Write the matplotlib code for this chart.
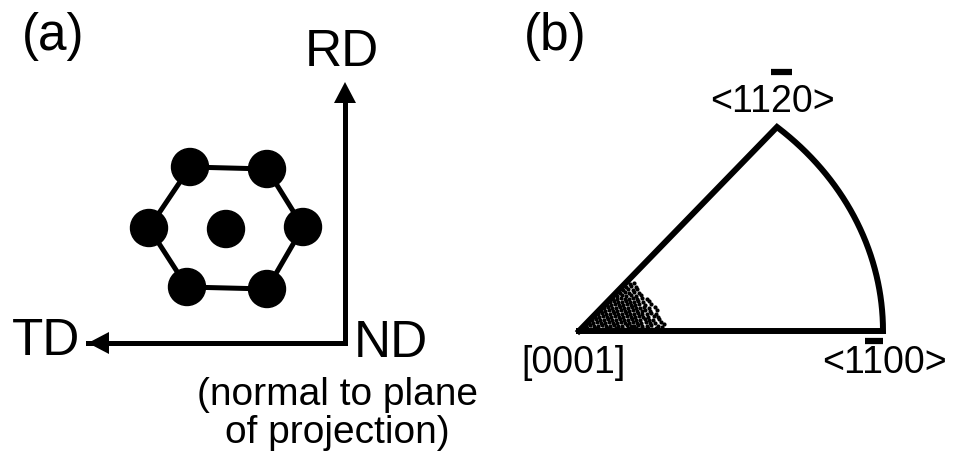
import numpy as np
import matplotlib
matplotlib.use("Agg")
import matplotlib.pyplot as plt
from matplotlib.patches import Circle, Polygon

plt.rcParams['font.family'] = ['Liberation Sans', 'DejaVu Sans']

# ---- panel (a): hexagonal lattice seen along ND ----
lattice_x = [190, 267, 303, 267, 187, 149]
lattice_y = [167, 169, 227, 289, 287, 228]
center_atom = (226, 229)

# sample frame axes (origin, RD tip, TD tip)
frame_origin = (345, 343)
rd_tip = (345, 82)
td_tip = (88, 343)

# ---- panel (b): inverse pole figure triangle ----
pole_0001 = (579, 331)
pole_1100 = (883, 331)
pole_1120 = (777, 127)

# orientation spread near [0001] (offsets from the [0001] pole, px right / px up)
spread_dx = [
    4, 8, 12, 16, 20, 24, 28, 33, 37, 41, 45, 49, 53, 57, 61, 65, 69, 73, 77, 83,
    7, 11, 15, 19, 23, 27, 31, 35, 39, 43, 48, 52, 55, 59, 63, 68, 72, 79, 85,
    10, 14, 18, 22, 26, 30, 34, 38, 42, 46, 50, 54, 58, 62, 67, 71, 76, 82,
    13, 17, 21, 25, 29, 33, 37, 41, 45, 49, 53, 57, 61, 66, 70, 74, 80,
    16, 20, 24, 28, 32, 36, 40, 44, 48, 52, 56, 60, 64, 69, 75, 79,
    19, 23, 27, 31, 35, 39, 43, 47, 51, 55, 59, 63, 68, 72, 77,
    22, 26, 30, 34, 38, 42, 46, 50, 54, 58, 63, 66, 71, 78,
    25, 29, 33, 37, 41, 45, 49, 53, 57, 61, 65, 70, 76,
    28, 32, 36, 40, 44, 48, 52, 56, 60, 66, 72,
    31, 35, 39, 43, 47, 51, 55, 59, 64, 70,
    34, 38, 42, 46, 50, 54, 58, 63, 68,
    38, 43, 47, 52, 57, 62,
    41, 46, 50, 55, 60,
    44, 49, 54, 58,
    47, 52, 57,
    51, 55,
]
spread_dy = (
    [2, 3, 2, 3, 2, 2, 3, 2, 3, 2, 2, 3, 2, 3, 2, 2, 3, 2, 3, 4]
    + [5, 6, 5, 5, 6, 5, 5, 6, 5, 5, 6, 5, 5, 6, 5, 5, 6, 5, 7]
    + [8, 8, 9, 8, 8, 9, 8, 8, 9, 8, 8, 9, 8, 8, 9, 8, 8, 9]
    + [11, 12, 11, 11, 12, 11, 11, 12, 11, 11, 12, 11, 11, 12, 11, 11, 12]
    + [14, 14, 15, 14, 14, 15, 14, 14, 15, 14, 14, 15, 14, 14, 15, 14]
    + [17, 18, 17, 17, 18, 17, 17, 18, 17, 17, 18, 17, 17, 18, 17]
    + [20, 20, 21, 20, 20, 21, 20, 20, 21, 20, 20, 21, 20, 21]
    + [23, 24, 23, 23, 24, 23, 23, 24, 23, 23, 24, 23, 24]
    + [26, 26, 27, 26, 26, 27, 26, 26, 27, 26, 27]
    + [29, 30, 29, 29, 30, 29, 29, 30, 29, 30]
    + [32, 32, 33, 32, 32, 33, 32, 33, 32]
    + [35, 36, 35, 36, 35, 36]
    + [38, 39, 38, 39, 38]
    + [41, 42, 41, 42]
    + [44, 45, 44]
    + [47, 48]
)

W, H = 955, 458
fig = plt.figure(figsize=(W / 100, H / 100), dpi=100)
ax = fig.add_axes([0, 0, 1, 1])
ax.set_xlim(0, W)
ax.set_ylim(H, 0)
ax.set_axis_off()

LW_A = 3.6   # pt, panel (a) strokes
LW_B = 4.3   # pt, triangle outline
big = 37
lab = 27

# panel (a): lattice
hx = lattice_x + [lattice_x[0]]
hy = lattice_y + [lattice_y[0]]
ax.plot(hx, hy, color='black', lw=LW_A, solid_capstyle='round', zorder=2)
for x, y in zip(lattice_x, lattice_y):
    ax.add_patch(Circle((x, y), 18.5, color='black', zorder=3))
ax.add_patch(Circle(center_atom, 18.5, color='black', zorder=3))

# panel (a): RD / TD frame with triangular heads
HEAD_L, HEAD_W = 21, 11
ox_a, oy_a = frame_origin
ax.plot([rd_tip[0], ox_a, td_tip[0]], [rd_tip[1] + HEAD_L - 1, oy_a, td_tip[1]],
        color='black', lw=LW_A, solid_joinstyle='miter', zorder=2)
ax.plot([ox_a, td_tip[0] + HEAD_L - 1], [oy_a, td_tip[1]], color='black', lw=LW_A, zorder=2)
ax.add_patch(Polygon([rd_tip, (rd_tip[0] - HEAD_W, rd_tip[1] + HEAD_L),
                      (rd_tip[0] + HEAD_W, rd_tip[1] + HEAD_L)], closed=True,
                     color='black', lw=0, zorder=3))
ax.add_patch(Polygon([td_tip, (td_tip[0] + HEAD_L, td_tip[1] - HEAD_W),
                      (td_tip[0] + HEAD_L, td_tip[1] + HEAD_W)], closed=True,
                     color='black', lw=0, zorder=3))

ax.text(22, 50, '(a)', fontsize=big, ha='left', va='baseline')
ax.text(342, 66, 'RD', fontsize=big, ha='center', va='baseline')
ax.text(12, 355, 'TD', fontsize=big, ha='left', va='baseline')
ax.text(354, 357, 'ND', fontsize=big, ha='left', va='baseline')
ax.text(337, 405, '(normal to plane', fontsize=28, ha='center', va='baseline')
ax.text(337, 443, 'of projection)', fontsize=28, ha='center', va='baseline')

# panel (b)
ax.text(524, 50, '(b)', fontsize=big, ha='left', va='baseline')

ox, oy = pole_0001
rx = pole_1100[0] - ox
t_apex = np.arccos((pole_1120[0] - ox) / rx)
ry = (oy - pole_1120[1]) / np.sin(t_apex)
t = np.linspace(0, t_apex, 200)
arc_x = ox + rx * np.cos(t)
arc_y = oy - ry * np.sin(t)
outline_x = np.concatenate([[ox, pole_1100[0]], arc_x, [ox]])
outline_y = np.concatenate([[oy, pole_1100[1]], arc_y, [oy]])
ax.plot(outline_x, outline_y, color='black', lw=LW_B, solid_joinstyle='miter', zorder=4)

sx = ox + np.array(spread_dx)
sy = oy - np.array(spread_dy)
ax.scatter(sx, sy, s=9, color='black', linewidths=0, zorder=3)

fig.canvas.draw()
renderer = fig.canvas.get_renderer()


def barred_label(x, y, text, bar_index, bar_y):
    """Centred label on baseline y with an overbar above the character at bar_index."""
    t_full = ax.text(x, y, text, fontsize=lab, ha='center', va='baseline')
    bb = t_full.get_window_extent(renderer)
    pre = ax.text(0, 0, text[:bar_index], fontsize=lab)
    upto = ax.text(0, 0, text[:bar_index + 1], fontsize=lab)
    w0 = pre.get_window_extent(renderer).width
    w1 = upto.get_window_extent(renderer).width
    pre.remove()
    upto.remove()
    inv = ax.transData.inverted()
    x0 = inv.transform((bb.x0 + w0, 0))[0]
    x1 = inv.transform((bb.x0 + w1, 0))[0]
    ax.plot([x0, x1], [bar_y, bar_y], color='black', lw=4.5, solid_capstyle='butt')


barred_label(772, 112, '<1120>', 3, 72)
barred_label(884, 373, '<1100>', 2, 341)
ax.text(573, 373, '[0001]', fontsize=lab, ha='center', va='baseline')

fig.savefig('out.png', dpi=100)
